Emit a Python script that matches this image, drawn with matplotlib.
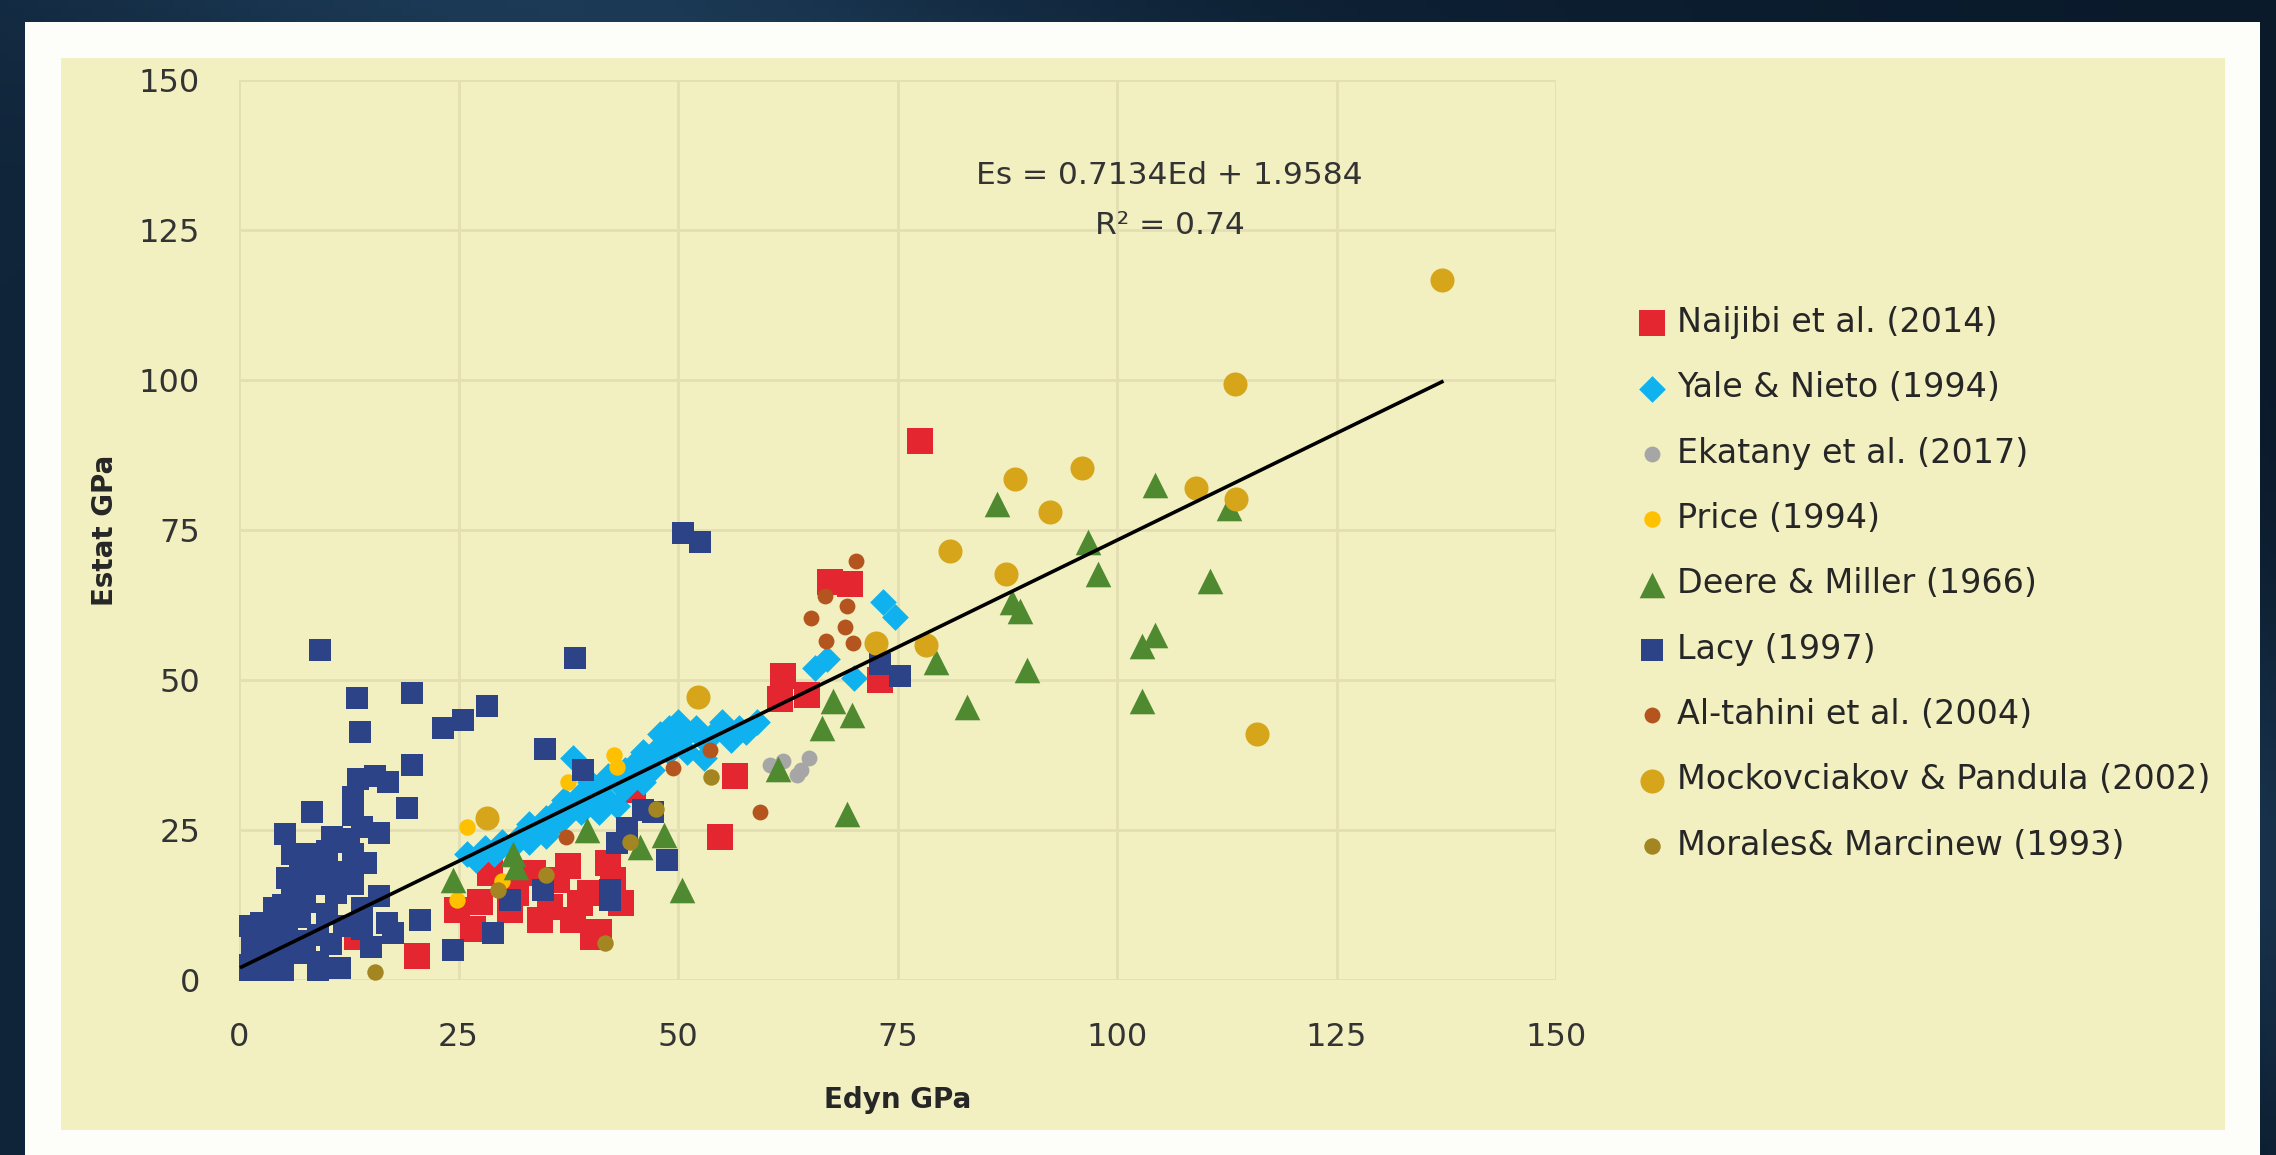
import matplotlib
matplotlib.use("Agg")
import matplotlib.pyplot as plt
from matplotlib.patches import Rectangle
import numpy as np

# Edyn / Estat pairs (GPa) for each published data set
naijibi_x = [13.4, 20.3, 24.8, 26.7, 27.5, 28.6, 30.9, 31.5, 33.5, 34.3, 35.4, 36.2, 37.5, 38.0, 38.8, 40.0,
             40.3, 41.0, 42.0, 42.6, 43.5, 44.9, 54.8, 56.5, 61.6, 62.0, 64.7, 67.3, 69.6, 73.0, 77.6]
naijibi_y = [7.2, 4.0, 11.7, 8.5, 13.0, 17.8, 11.7, 14.5, 17.8, 10.0, 12.2, 16.7, 19.0, 10.0, 12.8, 14.5,
             7.2, 8.0, 19.5, 16.7, 12.8, 31.7, 23.9, 34.0, 46.8, 50.7, 47.5, 66.3, 66.0, 50.0, 89.9]

yale_x = [26, 27, 28, 29, 30, 31, 32, 33, 33, 34, 35, 35, 36, 36, 37, 37, 38, 38, 39, 39, 40, 40, 41, 42, 42,
          43, 44, 44, 45, 45, 46, 47, 47, 48, 48, 49, 49, 50, 50, 51, 51, 52, 53, 54, 55, 56, 57, 57.8, 59,
          53, 46, 43, 41, 65.6, 67, 70, 73.4, 74.7]
yale_y = [21, 20, 22, 21, 23, 22, 24, 23, 26, 25, 27, 24, 26, 28, 27, 30, 29, 37, 28, 31, 30, 33, 32, 30, 34,
          33, 35, 32, 36, 34, 38, 37, 35, 39, 41, 38, 42, 40, 43, 41, 38, 42, 40, 41, 43, 40, 42, 41.3, 43,
          37, 33, 29, 28, 52, 53.5, 50.3, 63, 60.5]

ekatany_x = [60.5, 62.0, 64.0, 64.9, 63.5]
ekatany_y = [35.8, 36.5, 35.0, 37.0, 34.2]

price_x = [24.8, 26.0, 30.0, 37.5, 42.7, 43.0]
price_y = [13.3, 25.5, 16.5, 33.0, 37.5, 35.5]

deere_x = [86.3, 104.3, 96.7, 97.8, 110.6, 88.0, 89.0, 104.3, 102.8, 89.7, 79.4, 82.9, 102.8, 69.2, 67.7,
           66.4, 69.8, 61.4, 112.7, 50.4, 24.4, 31.2, 31.6, 39.6, 45.7, 48.4]
deere_y = [79.3, 82.5, 73.0, 67.6, 66.5, 63.0, 61.5, 57.5, 55.6, 51.6, 53.0, 45.5, 46.5, 27.7, 46.5,
           42.0, 44.2, 35.2, 78.7, 15.0, 16.7, 21.0, 18.9, 25.0, 22.2, 24.2]

lacy_x = [9.2, 13.4, 19.7, 13.8, 19.7, 28.2, 25.5, 23.2, 38.3, 50.6, 52.5, 34.9, 39.2, 19.1, 8.3, 5.2, 10.6,
          13.5, 15.5, 17.0, 13.0, 13.0, 14.0, 16.0,
          16.8, 17.5, 20.6, 24.4, 28.9, 30.9, 34.6, 42.3, 42.3, 43.0, 44.2, 46.0, 47.2, 48.7, 73.0, 75.3,
          0.3, 0.5, 0.8, 1.5, 2.0, 2.5, 3.0, 3.0, 4.0, 4.5, 5.0, 5.0, 5.5, 6.0, 6.5, 7.0, 7.0, 7.5, 8.0,
          8.5, 9.0, 9.0, 9.5, 10.0, 10.0, 10.5, 11.0, 11.5, 12.0, 12.0, 13.0, 13.0, 14.0, 14.5, 15.0,
          16.0, 11.5, 6.0, 1.5, 2.5, 4.0, 3.5, 5.5, 6.5, 8.0, 9.0, 11.0, 12.5, 7.5, 4.5, 10.0, 14.0]
lacy_y = [55.0, 47.0, 47.8, 41.4, 35.8, 45.6, 43.3, 42.0, 53.7, 74.5, 73.0, 38.5, 35.0, 28.6, 28.0, 24.4, 23.9,
          33.5, 34.0, 33.0, 30.5, 27.5, 25.5, 24.5,
          9.5, 7.8, 10.0, 5.0, 7.8, 13.3, 15.0, 13.3, 15.0, 22.8, 25.3, 28.3, 28.0, 20.0, 52.6, 50.7,
          0.3, 2.5, 9.0, 1.0, 4.0, 0.5, 2.5, 7.0, 5.0, 10.0, 1.0, 12.5, 8.0, 15.0, 4.5, 10.5, 18.0, 13.0, 21.0,
          16.0, 0.3, 3.0, 19.0, 11.0, 21.5, 6.0, 14.5, 2.0, 18.0, 9.0, 21.0, 16.0, 12.0, 19.5, 5.5,
          14.0, 23.0, 21.0, 6.0, 9.5, 12.0, 1.0, 17.0, 12.5, 18.5, 7.5, 17.0, 23.5, 6.5, 2.5, 2.0, 8.5]

altahini_x = [70.3, 66.7, 69.2, 65.2, 69.0, 66.9, 69.9, 59.3, 53.6, 49.4, 37.3]
altahini_y = [69.8, 64.0, 62.4, 60.4, 58.8, 56.5, 56.2, 28.0, 38.3, 35.3, 23.9]

mock_x = [28.3, 52.3, 72.6, 78.3, 81.0, 87.4, 88.4, 92.4, 96.0, 109.0, 113.6, 113.4, 116.0, 137.0]
mock_y = [27.0, 47.2, 56.2, 55.9, 71.5, 67.6, 83.5, 78.0, 85.4, 82.0, 80.2, 99.4, 41.0, 116.7]

morales_x = [15.5, 41.7, 53.8, 44.5, 35.0, 47.5, 29.5]
morales_y = [1.3, 6.2, 33.9, 23.0, 17.5, 28.5, 15.0]

# linear fit reported for the pooled data
slope, intercept, r2 = 0.7134, 1.9584, 0.74

series = [
    ("Naijibi et al. (2014)", naijibi_x, naijibi_y, "s", 360, "#e3262f"),
    ("Yale & Nieto (1994)", yale_x, yale_y, "D", 185, "#0fb2ee"),
    ("Ekatany et al. (2017)", ekatany_x, ekatany_y, "o", 130, "#a6a6a6"),
    ("Price (1994)", price_x, price_y, "o", 140, "#ffc000"),
    ("Deere & Miller (1966)", deere_x, deere_y, "^", 340, "#4f8a30"),
    ("Lacy (1997)", lacy_x, lacy_y, "s", 245, "#2c4487"),
    ("Al-tahini et al. (2004)", altahini_x, altahini_y, "o", 130, "#b4541f"),
    ("Mockovciakov & Pandula (2002)", mock_x, mock_y, "o", 300, "#d6a51a"),
    ("Morales& Marcinew (1993)", morales_x, morales_y, "o", 140, "#a38521"),
]

W, H = 2276, 1155
fig = plt.figure(figsize=(W / 100, H / 100), dpi=100)

# dark backdrop with a faint diagonal sheen
bg = fig.add_axes([0, 0, 1, 1], zorder=-10)
gx, gy = np.meshgrid(np.linspace(0, 1, 300), np.linspace(0, 1, 150))
bg.imshow(0.55 * np.exp(-((gx - 0.35) + (gy - 0.9)) ** 2 / 0.05) + 0.25 * (1 - gx),
          cmap=matplotlib.colors.LinearSegmentedColormap.from_list("navy", ["#0a1a2b", "#1c3a56"]),
          aspect="auto", extent=[0, 1, 0, 1], origin="lower")
bg.axis("off")

fig.add_artist(Rectangle((25 / W, 0), 2235 / W, 1 - 22 / H, transform=fig.transFigure,
                         facecolor="#fdfdf9", edgecolor="none", zorder=-5))
fig.add_artist(Rectangle((61 / W, 1 - 1130 / H), 2164 / W, 1072 / H, transform=fig.transFigure,
                         facecolor="#f2efc0", edgecolor="none", zorder=-4))

ax = fig.add_axes([239 / W, 1 - 980 / H, 1317 / W, 900 / H])
ax.set_facecolor("none")

for label, xs, ys, mk, size, col in series:
    ax.scatter(xs, ys, marker=mk, s=size, c=col, linewidths=0, label=label, zorder=3)

all_x = np.concatenate([s[1] for s in series])
fit_x = np.array([all_x.min(), all_x.max()])
ax.plot(fit_x, slope * fit_x + intercept, color="black", lw=2.6, zorder=5)

ax.text(106, 134, f"Es = {slope}Ed + {intercept}", ha="center", va="center", fontsize=22.5, color="#333333")
ax.text(106, 125.8, f"R² = {r2}", ha="center", va="center", fontsize=22.5, color="#333333")

ax.set_xlim(0, 150)
ax.set_ylim(0, 150)
ax.set_xticks(np.arange(0, 151, 25))
ax.set_yticks(np.arange(0, 151, 25))
ax.grid(True, color="#e4dfb3", lw=2)
ax.set_axisbelow(True)
for sp in ax.spines.values():
    sp.set_visible(False)
ax.tick_params(length=0, labelsize=23, labelcolor="#333333")
ax.tick_params(axis="y", pad=28)
ax.tick_params(axis="x", pad=30)
ax.set_xlabel("Edyn GPa", fontsize=20, fontweight="bold", color="#262626", labelpad=24)
ax.set_ylabel("Estat GPa", fontsize=20, fontweight="bold", color="#262626", labelpad=14)

ax.legend(loc="upper left", bbox_to_anchor=(1640 / W, 1 - 306 / H), bbox_transform=fig.transFigure,
          frameon=False, fontsize=24, labelspacing=0.97, handlelength=0.7, handletextpad=0.4,
          borderpad=0, borderaxespad=0, scatterpoints=1, labelcolor="#262626")

fig.savefig("out.png", dpi=100)
